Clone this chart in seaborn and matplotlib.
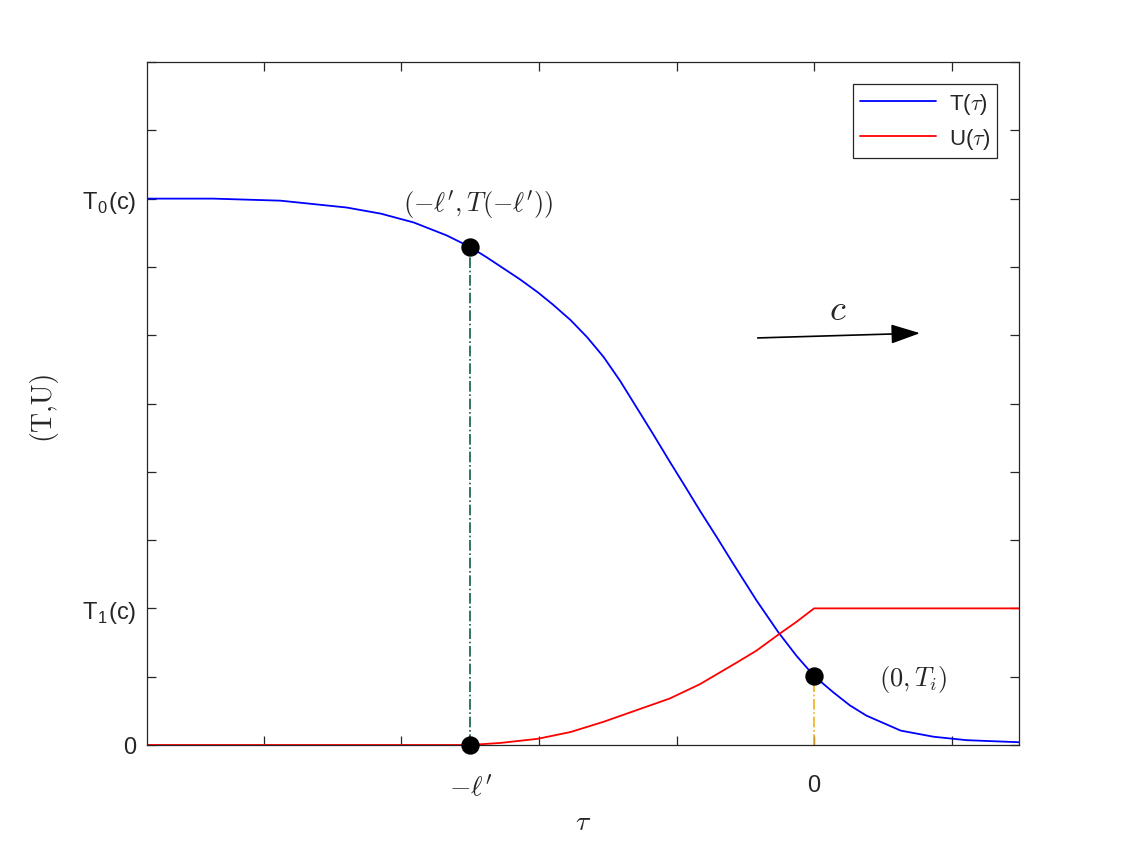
import matplotlib
matplotlib.use("Agg")
import matplotlib.pyplot as plt
import seaborn as sns
import pandas as pd

# curve values
tau_T = [-4.85, -4.37, -3.88, -3.40, -3.15, -2.91, -2.67, -2.50, -2.38, -2.14,
         -2.01, -1.90, -1.77, -1.65, -1.53, -1.41, -1.29, -1.17, -1.05, -0.93,
         -0.83, -0.71, -0.59, -0.42, -0.26, -0.13, 0.00, 0.14, 0.26, 0.38,
         0.63, 0.87, 1.11, 1.49]
T_vals = [8.00, 8.00, 7.97, 7.87, 7.78, 7.65, 7.46, 7.29, 7.14, 6.82,
          6.63, 6.45, 6.22, 5.97, 5.68, 5.33, 4.94, 4.55, 4.15, 3.76,
          3.43, 3.05, 2.66, 2.12, 1.65, 1.31, 1.01, 0.77, 0.58, 0.43,
          0.21, 0.12, 0.07, 0.04]

tau_U = [-4.85, -2.50, -2.28, -2.01, -1.77, -1.53, -1.29, -1.05, -0.83,
         -0.56, -0.42, -0.25, -0.13, 0.00, 1.49]
U_vals = [0.0, 0.0, 0.03, 0.09, 0.19, 0.34, 0.51, 0.68, 0.89,
          1.21, 1.38, 1.63, 1.80, 2.0, 2.0]

# marked points
pt_tau = [-2.5, -2.5, 0.0]
pt_val = [7.29, 0.0, 1.01]

x_ticks = [-4, -3, -2, -1, 0, 1]
x_labels = ["", "", "", "", "0", ""]
y_ticks = list(range(0, 11))
y_labels = ["0", "", r"T$_\mathregular{1}$(c)", "", "", "", "", "",
            r"T$_\mathregular{0}$(c)", "", ""]

sns.set_style("ticks")
plt.rcParams["font.family"] = ["Liberation Sans", "DejaVu Sans"]
plt.rcParams["mathtext.fontset"] = "cm"
axis_col = "#262626"

df_T = pd.DataFrame({"tau": tau_T, "val": T_vals})
df_U = pd.DataFrame({"tau": tau_U, "val": U_vals})
df_pts = pd.DataFrame({"tau": pt_tau, "val": pt_val})

fig = plt.figure(figsize=(11.26, 8.45), dpi=100)
ax = fig.add_axes([0.1306, 0.1172, 0.7744, 0.8082])

# guide lines
ax.plot([pt_tau[1], pt_tau[0]], [pt_val[1], pt_val[0]], color="#0e5f3c",
        ls="-.", lw=1.2, zorder=1)
ax.plot([pt_tau[2], pt_tau[2]], [0, pt_val[2]], color="#EDB120",
        ls="-.", lw=1.2, zorder=1)

sns.lineplot(data=df_T, x="tau", y="val", ax=ax, color="#0000ff", lw=1.3,
             label=r"T($\tau$)", sort=False, estimator=None)
sns.lineplot(data=df_U, x="tau", y="val", ax=ax, color="#ff0000", lw=1.3,
             label=r"U($\tau$)", sort=False, estimator=None)
sns.scatterplot(data=df_pts, x="tau", y="val", ax=ax, color="black", s=150,
                edgecolor="black", zorder=5, legend=False, clip_on=False)

ax.set_xlim(-4.85, 1.49)
ax.set_ylim(0, 10)

ax.set_xticks(x_ticks, labels=x_labels)
ax.set_xticks([-2.5], labels=[r"$-\ell'$"], minor=True)
ax.set_yticks(y_ticks, labels=y_labels)
ax.tick_params(axis="both", which="major", direction="in", length=6.5,
               width=0.9, top=True, right=True, colors=axis_col, labelsize=17)
ax.tick_params(axis="x", which="minor", length=0, labelsize=20,
               colors=axis_col)
ax.tick_params(axis="x", which="both", pad=21)
ax.tick_params(axis="y", pad=8)
for s in ax.spines.values():
    s.set_color(axis_col)
    s.set_linewidth(0.9)

ax.set_xlabel(r"$\tau$", fontsize=20, color=axis_col, labelpad=6)
ax.set_ylabel("(T,U)", family="cmr10", fontsize=20, color=axis_col,
              labelpad=18)

ax.text(-2.44, 7.92, r"$(-\ell',T(-\ell'))$", fontsize=19, ha="center",
        va="center")
ax.text(0.72, 0.97, r"$(0,T_i)$", fontsize=19, ha="center", va="center")
ax.text(0.17, 6.38, r"$c$", fontsize=26, ha="center", va="center")
ax.annotate("", xy=(0.77, 6.03), xytext=(-0.41, 5.96),
            arrowprops=dict(arrowstyle="-|>,head_length=1.8,head_width=0.6",
                            color="black", lw=1.2, shrinkA=0, shrinkB=0))

leg = ax.legend(loc="upper right", fontsize=16, frameon=True, fancybox=False,
                handlelength=3.4, borderaxespad=1.0, borderpad=0.3,
                labelspacing=0.45, handletextpad=0.6)
leg.get_frame().set_edgecolor(axis_col)
leg.get_frame().set_linewidth(0.9)
leg.get_frame().set_alpha(1)

fig.savefig("out.png", dpi=100)
